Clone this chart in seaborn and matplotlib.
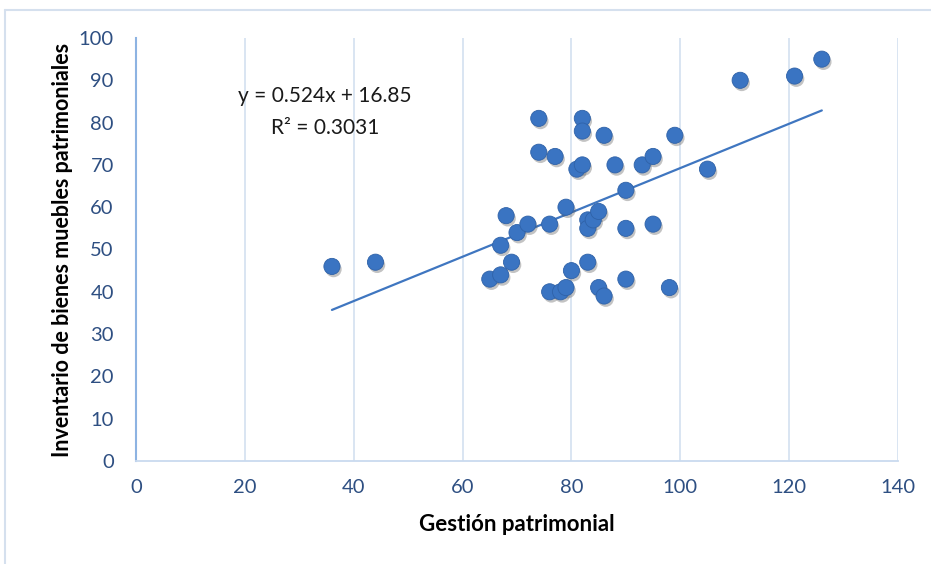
import matplotlib
matplotlib.use("Agg")
import matplotlib.pyplot as plt
import matplotlib.patheffects as pe
from matplotlib.lines import Line2D
import numpy as np
import pandas as pd
import seaborn as sns

# Data
gestion = [36, 44, 65, 67, 67, 68, 69, 70, 72, 74, 74, 76, 76, 77, 78, 79, 79,
           80, 81, 82, 82, 82, 83, 83, 83, 84, 85, 85, 86, 86, 88, 90, 90, 90,
           93, 95, 95, 98, 99, 105, 111, 121, 126]
inventario = [46, 47, 43, 44, 51, 58, 47, 54, 56, 81, 73, 56, 40, 72, 40, 41, 60,
              45, 69, 70, 81, 78, 57, 55, 47, 57, 59, 41, 39, 77, 70, 64, 55, 43,
              70, 72, 56, 41, 77, 69, 90, 91, 95]
slope = 0.524
intercept = 16.85
r2 = 0.3031
x_ticks = [0, 20, 40, 60, 80, 100, 120, 140]
y_ticks = [0, 10, 20, 30, 40, 50, 60, 70, 80, 90, 100]

df = pd.DataFrame({"Gestión patrimonial": gestion,
                   "Inventario de bienes muebles patrimoniales": inventario})

sns.set_style("white")
plt.rcParams["font.family"] = ["Lato", "DejaVu Sans"]

W, H = 931, 564
fig = plt.figure(figsize=(W / 100, H / 100), dpi=100)
ax = fig.add_axes([136 / W, 1 - 461 / H, (898 - 136) / W, (461 - 38) / H])

point_color = "#3A74C2"
sns.scatterplot(data=df, x="Gestión patrimonial",
                y="Inventario de bienes muebles patrimoniales",
                ax=ax, s=135, color=point_color, edgecolor="#2F62A8",
                linewidth=0.6, zorder=3)
for coll in ax.collections:
    coll.set_path_effects([pe.SimplePatchShadow(offset=(1.2, -2.0), alpha=0.35,
                                                shadow_rgbFace="#555555"),
                           pe.Normal()])

# Linear trend line over data range
xs = np.array([min(gestion), max(gestion)])
sns.lineplot(x=xs, y=slope * xs + intercept, ax=ax, color="#3F76C0",
             linewidth=1.6, zorder=2)

ax.set_xlim(0, 140)
ax.set_ylim(0, 100)
ax.set_xticks(x_ticks)
ax.set_yticks(y_ticks)
ax.grid(axis="x", color="#D3E0F0", linewidth=1.2)
ax.grid(axis="y", visible=False)
ax.set_axisbelow(True)

for s in ["top", "right"]:
    ax.spines[s].set_visible(False)
ax.spines["left"].set_color("#8DB3E2")
ax.spines["left"].set_linewidth(1.5)
ax.spines["bottom"].set_color("#C9DAEF")
ax.spines["bottom"].set_linewidth(1.3)

tick_color = "#2E4F82"
ax.tick_params(axis="both", length=0, labelsize=14.5, labelcolor=tick_color)
ax.tick_params(axis="y", pad=16)
ax.tick_params(axis="x", pad=13)

ax.set_xlabel("Gestión patrimonial", fontsize=16, fontweight="bold",
              color="black", labelpad=13)
ax.set_ylabel("Inventario de bienes muebles patrimoniales", fontsize=15.5,
              fontweight="bold", color="black", labelpad=4)

ax.text(34.7, 82.5, f"y = {slope}x + {intercept}\nR² = {r2}", ha="center",
        va="center", fontsize=15, color="#1A1A1A", linespacing=1.75)

# Chart area border (partially visible)
border = "#D5E0EE"
fig.add_artist(Line2D([5 / W, 5 / W], [0, 1 - 10 / H], color=border,
                      linewidth=1.5, transform=fig.transFigure))
fig.add_artist(Line2D([5 / W, 1], [1 - 10 / H, 1 - 10 / H], color=border,
                      linewidth=1.5, transform=fig.transFigure))

fig.savefig("out.png", dpi=100)
